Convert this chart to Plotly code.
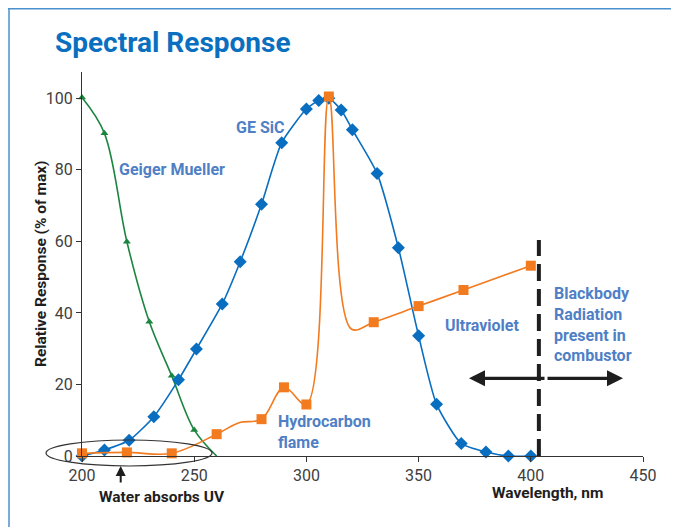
import plotly.graph_objects as go

# ---------------- data ----------------
sic_x = [200, 210, 221, 232, 243, 251, 262.5, 270.5, 280, 289, 300, 305.5, 310,
         315.5, 320.5, 331.5, 341, 350, 358, 369, 380, 390, 400]
sic_y = [0, 1.7, 4.4, 11, 21.3, 29.9, 42.5, 54.3, 70.4, 87.6, 97, 99.4, 100,
         96.7, 91.2, 79, 58.2, 33.6, 14.5, 3.5, 1.1, 0, 0]

gm_x = [200, 210, 220, 230, 240, 250, 260]
gm_y = [100.2, 90.2, 59.9, 37.5, 22.4, 7.3, 0]

uv_x = [200, 220, 240, 260, 270, 280, 290, 300, 310, 320, 330, 350, 370, 400]
uv_y = [0.75, 1.0, 0.75, 6.1, 9.3, 10.3, 19.2, 14.4, 100.5, 35.5, 37.4, 41.9, 46.4, 53.2]
uv_unmarked_x = [270, 320]

x_ticks = [200, 250, 300, 350, 400, 450]
y_ticks = [0, 20, 40, 60, 80, 100]

# ---------------- layout helpers (page pixel -> paper) ----------------
OFF = 8  # page body margin
L, R, T, B = 82, 643, 72, 456
W, H = 679 - OFF, 527 - OFF


def px(xp):
    return (xp - L) / (R - L)


def py(yp):
    return (B - yp) / (B - T)


BLUE = "#0A6EC0"
ORANGE = "#F27A1F"
GREEN = "#1B8540"
LBLUE = "#4F80C6"
DARK = "#1e1e1e"
FONT = "Roboto"

fig = go.Figure()

# Geiger Mueller
fig.add_trace(go.Scatter(x=gm_x, y=gm_y, mode="lines",
                         line=dict(color=GREEN, width=1.6, shape="spline", smoothing=1),
                         hoverinfo="skip", showlegend=False, cliponaxis=False))
fig.add_trace(go.Scatter(x=gm_x[:-1], y=gm_y[:-1], mode="markers",
                         marker=dict(symbol="triangle-up", size=7, color=GREEN),
                         showlegend=False, cliponaxis=False))

# GE SiC
fig.add_trace(go.Scatter(x=sic_x, y=sic_y, mode="lines+markers",
                         line=dict(color=BLUE, width=1.6, shape="spline", smoothing=0.6),
                         marker=dict(symbol="diamond", size=10, color=BLUE),
                         showlegend=False, cliponaxis=False))

# Ultraviolet / hydrocarbon flame
fig.add_trace(go.Scatter(x=uv_x, y=uv_y, mode="lines",
                         line=dict(color=ORANGE, width=1.6, shape="spline", smoothing=1),
                         hoverinfo="skip", showlegend=False, cliponaxis=False))
mx = [x for x in uv_x if x not in uv_unmarked_x]
my = [y for x, y in zip(uv_x, uv_y) if x not in uv_unmarked_x]
fig.add_trace(go.Scatter(x=mx, y=my, mode="markers",
                         marker=dict(symbol="square", size=10, color=ORANGE),
                         showlegend=False, cliponaxis=False))

shapes = [
    # frame lines
    dict(type="line", xref="paper", yref="paper", x0=px(8), x1=px(682), y0=py(8.7), y1=py(8.7),
         line=dict(color="#4A90CF", width=1.5)),
    dict(type="line", xref="paper", yref="paper", x0=px(9), x1=px(9), y0=py(8), y1=py(530),
         line=dict(color="#4A90CF", width=1.5)),
    # ellipse
    dict(type="circle", xref="paper", yref="paper", x0=px(46), x1=px(212), y0=py(466), y1=py(440),
         line=dict(color="#333333", width=1.2)),
    # dashed vertical line
    dict(type="line", xref="x", yref="y", x0=403.6, x1=403.6, y0=0, y1=60.4,
         line=dict(color=DARK, width=4, dash="17px,8px")),
]

ann = []


def text(xp, yp, s, size=16, color=LBLUE, bold=True, xanchor="center", align="center"):
    ann.append(dict(xref="paper", yref="paper", x=px(xp), y=py(yp), text=("<b>%s</b>" % s) if bold else s,
                    showarrow=False, xanchor=xanchor, yanchor="middle", align=align,
                    font=dict(family=FONT, size=size, color=color)))


ann.append(dict(xref="paper", yref="paper", x=px(53), y=py(42), text="<b>Spectral Response</b>",
                showarrow=False, xanchor="left", yanchor="middle",
                font=dict(family=FONT, size=28, color="#0B6FC0")))
text(259.5, 127.7, "GE SiC")
text(171.5, 169.5, "Geiger Mueller")
text(482, 325, "Ultraviolet")
ann.append(dict(xref="paper", yref="paper", x=px(276), y=py(432), text="<b>Hydrocarbon<br>flame</b>",
                showarrow=False, xanchor="left", yanchor="middle", align="left",
                font=dict(family=FONT, size=16, color=LBLUE)))
ann.append(dict(xref="paper", yref="paper", x=px(552), y=py(324), text="<b>Blackbody<br>Radiation<br>present in<br>combustor</b>",
                showarrow=False, xanchor="left", yanchor="middle", align="left",
                font=dict(family=FONT, size=16, color=LBLUE)))
text(161.5, 497, "Water absorbs UV", size=15.5, color=DARK)
text(547.5, 492.5, "Wavelength, nm", size=15.5, color=DARK)
ann.append(dict(xref="paper", yref="paper", x=px(41), y=py(264), text="<b>Relative Response (% of max)</b>",
                showarrow=False, textangle=-90, xanchor="center", yanchor="middle",
                font=dict(family=FONT, size=15.5, color=DARK)))

# up arrow to ellipse
ann.append(dict(xref="paper", yref="paper", x=px(120.7), y=py(466), ax=0, ay=18, text="",
                showarrow=True, arrowhead=2, arrowsize=1, arrowwidth=2, arrowcolor=DARK))
# double-headed horizontal arrow
ay_p = py(378.3)
ann.append(dict(xref="paper", yref="paper", x=px(469), y=ay_p, ax=77, ay=0, text="",
                showarrow=True, arrowhead=2, arrowsize=1, arrowwidth=3.2, arrowcolor=DARK))
ann.append(dict(xref="paper", yref="paper", x=px(623), y=ay_p, ax=-77, ay=0, text="",
                showarrow=True, arrowhead=2, arrowsize=1, arrowwidth=3.2, arrowcolor=DARK))

fig.update_layout(
    width=W, height=H,
    margin=dict(l=L - OFF, r=W - (R - OFF), t=T - OFF, b=H - (B - OFF)),
    paper_bgcolor="white", plot_bgcolor="white",
    font=dict(family=FONT, size=16, color="#404040"),
    shapes=shapes, annotations=ann, showlegend=False,
    xaxis=dict(range=[200, 450], tickvals=x_ticks, ticks="outside", ticklen=5, tickcolor="#333",
               showline=True, linecolor="#333", linewidth=1, showgrid=False, zeroline=False,
               tickfont=dict(family=FONT, size=16, color="#404040")),
    yaxis=dict(range=[0, 107.35], tickvals=y_ticks, ticks="outside", ticklen=5, tickcolor="#333",
               showline=True, linecolor="#333", linewidth=1, showgrid=False, zeroline=False,
               tickfont=dict(family=FONT, size=16, color="#404040")),
)

fig.write_html("out.html")
